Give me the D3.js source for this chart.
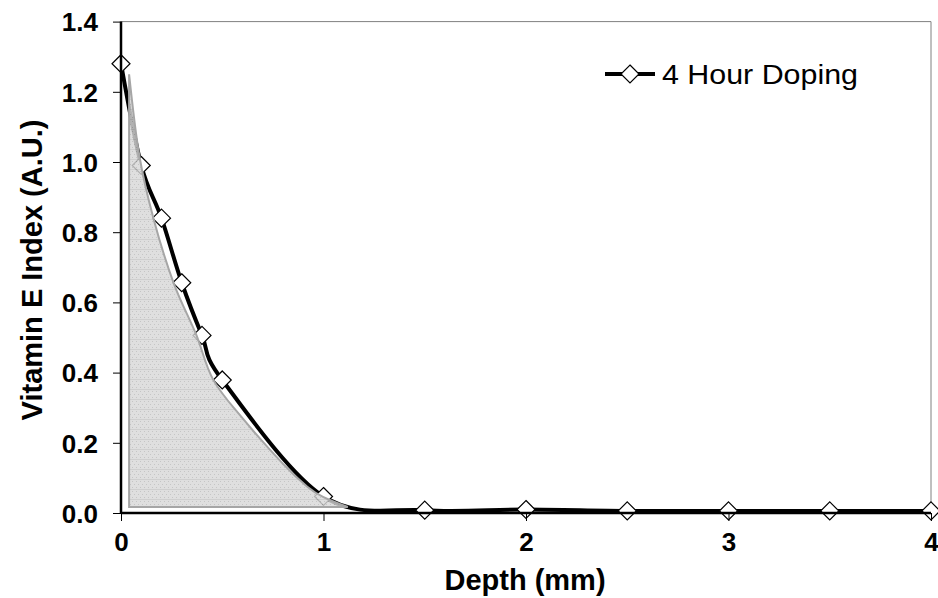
<!DOCTYPE html>
<html>
  <head>
    <meta charset="utf-8"/>
    <style>
      body { margin: 0; background: #fff; }
      text { font-family: Arial, "Liberation Sans", sans-serif; }
    </style>
  </head>
  <body>
    <script src="https://d3js.org/d3.v7.min.js"></script>
    <script type="text/javascript">
      var width = 938, height = 598;

      // measured series, 4 hour doping
      var depth = [0, 0.1, 0.2, 0.3, 0.4, 0.5, 1.0, 1.5, 2.0, 2.5, 3.0, 3.5, 4.0];
      var index = [1.28, 0.99, 0.84, 0.656, 0.506, 0.379, 0.047, 0.008, 0.01, 0.006, 0.006, 0.006, 0.006];

      // shaded region under the curve
      var shadeDepth = [0.04, 0.09, 0.16, 0.26, 0.37, 0.455, 0.6, 0.8, 0.92, 1.0, 1.12];
      var shadeIndex = [1.25, 1.02, 0.84, 0.655, 0.51, 0.38, 0.27, 0.14, 0.075, 0.045, 0.017];
      var shadeBase = 0.017;

      var xTicks = [0, 1, 2, 3, 4];
      var yTicks = [0, 0.2, 0.4, 0.6, 0.8, 1.0, 1.2, 1.4];
      var seriesName = "4 Hour Doping";

      var margin = {left: 121, right: 7, top: 21.6, bottom: 85};

      var svg = d3.select("body")
                  .append("svg")
                  .attr("width", width)
                  .attr("height", height);

      var x = d3.scaleLinear().domain([0, 4]).range([margin.left, width - margin.right]);
      var y = d3.scaleLinear().domain([0, 1.4]).range([height - margin.bottom, margin.top]);

      // fill pattern for shaded area
      var defs = svg.append("defs");
      var pat = defs.append("pattern")
                    .attr("id", "dots")
                    .attr("patternUnits", "userSpaceOnUse")
                    .attr("width", 4).attr("height", 10);
      pat.append("rect").attr("width", 4).attr("height", 10).attr("fill", "#d8d8d8");
      pat.append("rect").attr("x", 0).attr("y", 1).attr("width", 1).attr("height", 1).attr("fill", "#b8b8b8");
      pat.append("rect").attr("x", 2).attr("y", 4).attr("width", 1).attr("height", 1).attr("fill", "#b8b8b8");
      pat.append("rect").attr("x", 0).attr("y", 7).attr("width", 1).attr("height", 1).attr("fill", "#b8b8b8");
      pat.append("rect").attr("x", 0).attr("y", 9).attr("width", 4).attr("height", 1).attr("fill", "#c4c4c4");

      // plot frame (top + right)
      svg.append("path")
         .attr("d", "M" + x(0) + "," + y(1.4) + "H" + x(4) + "V" + y(0))
         .attr("fill", "none")
         .attr("stroke", "#808080")
         .attr("stroke-width", 1);

      // series line
      var pts = depth.map(function(d, i) { return [d, index[i]]; });
      var line = d3.line()
                   .x(function(d) { return x(d[0]); })
                   .y(function(d) { return y(d[1]); })
                   .curve(d3.curveCardinal.tension(0));
      svg.append("path")
         .attr("d", line(pts))
         .attr("fill", "none")
         .attr("stroke", "#000")
         .attr("stroke-width", 4);

      var diamond = "M0,-9L9,0L0,9L-9,0Z";
      svg.selectAll(".mk")
         .data(pts)
         .enter().append("path")
         .attr("class", "mk")
         .attr("d", diamond)
         .attr("transform", function(d) { return "translate(" + x(d[0]) + "," + y(d[1]) + ")"; })
         .attr("fill", "#fff")
         .attr("stroke", "#000")
         .attr("stroke-width", 1.2);

      // shaded area on top, semi transparent
      var shade = shadeDepth.map(function(d, i) { return [d, shadeIndex[i]]; });
      var area = d3.area()
                   .x(function(d) { return x(d[0]); })
                   .y0(y(shadeBase))
                   .y1(function(d) { return y(d[1]); })
                   .curve(d3.curveCardinal.tension(0));
      svg.append("path")
         .attr("d", area(shade))
         .attr("fill", "url(#dots)")
         .attr("fill-opacity", 0.82)
         .attr("stroke", "#a6a6a6")
         .attr("stroke-width", 2);

      // axes
      var xAxis = d3.axisBottom(x).tickValues(xTicks).tickSize(8).tickFormat(d3.format("d"));
      var yAxis = d3.axisLeft(y).tickValues(yTicks).tickSize(8).tickFormat(d3.format(".1f"));

      var gx = svg.append("g")
                  .attr("transform", "translate(0," + y(0) + ")")
                  .call(xAxis);
      var gy = svg.append("g")
                  .attr("transform", "translate(" + x(0) + ",0)")
                  .call(yAxis);

      [gx, gy].forEach(function(g) {
        g.select(".domain").attr("stroke", "#000").attr("stroke-width", 2.5);
        g.selectAll(".tick line").attr("stroke", "#000").attr("stroke-width", 1);
        g.selectAll(".tick text")
         .attr("fill", "#000")
         .style("font-family", "Arial, 'Liberation Sans', sans-serif")
         .style("font-size", "26px")
         .style("font-weight", "bold");
      });
      gx.select(".domain").attr("d", "M" + x(0) + ",0H" + x(4));
      gy.select(".domain").attr("d", "M0," + y(0) + "V" + y(1.4));
      gx.selectAll(".tick text").attr("dy", "1.05em");
      gy.selectAll(".tick text").attr("x", -23).attr("dy", "0.36em");

      // axis titles
      svg.append("text")
         .attr("x", 525)
         .attr("y", 590)
         .attr("text-anchor", "middle")
         .style("font-size", "29px")
         .style("font-weight", "bold")
         .text("Depth (mm)");

      svg.append("text")
         .attr("transform", "translate(42,270) rotate(-90)")
         .attr("text-anchor", "middle")
         .style("font-size", "29px")
         .style("font-weight", "bold")
         .text("Vitamin E Index (A.U.)");

      // legend
      var lg = svg.append("g").attr("transform", "translate(605,74)");
      lg.append("line")
        .attr("x1", 0).attr("x2", 50)
        .attr("stroke", "#000").attr("stroke-width", 4);
      lg.append("path")
        .attr("d", diamond)
        .attr("transform", "translate(25,0)")
        .attr("fill", "#fff").attr("stroke", "#000").attr("stroke-width", 1.2);
      lg.append("text")
        .attr("x", 57)
        .attr("y", 10)
        .style("font-size", "28px")
        .attr("textLength", 196)
        .attr("lengthAdjust", "spacingAndGlyphs")
        .text(seriesName);
    </script>
  </body>
</html>
